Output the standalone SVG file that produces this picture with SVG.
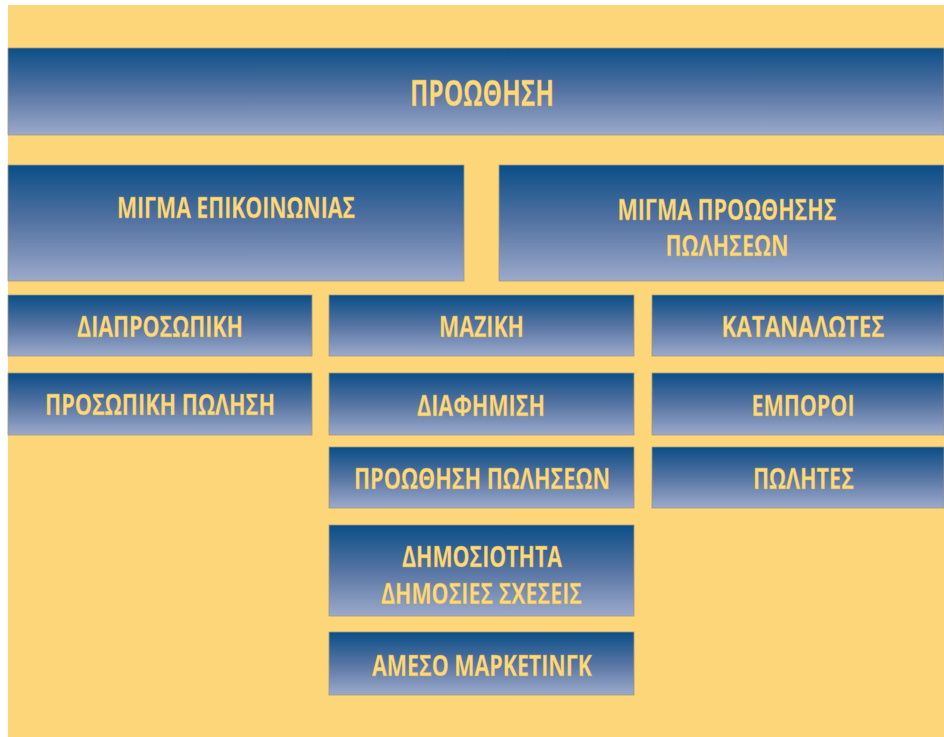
<svg xmlns="http://www.w3.org/2000/svg" width="944" height="737" viewBox="0 0 944 737">
  <defs>
    <linearGradient id="blue" x1="0" y1="0" x2="0" y2="1">
      <stop offset="0" stop-color="#0A4E87"/>
      <stop offset="0.5" stop-color="#5674A3"/>
      <stop offset="1" stop-color="#9CAACB"/>
    </linearGradient>
    <style>
      .box { fill: url(#blue); stroke: #9c9a86; stroke-width: 0.8; }
      .lbl { font-family: "Open Sans", "Noto Sans", "DejaVu Sans", sans-serif; font-weight: 700; font-size: 28px; fill: #FED87A; text-anchor: middle; stroke: #b9a650; stroke-width: 0.3; }
      .big { font-size: 35px; }
    </style>
  </defs>
  <rect x="0" y="0" width="944" height="737" fill="#ffffff"/>
  <rect x="8" y="5" width="936" height="732" fill="#FDD679"/>

  <g id="n-prowthisi">
    <rect class="box" x="8" y="48" width="936" height="87"/>
    <text class="lbl big" x="482" y="106" textLength="144" lengthAdjust="spacingAndGlyphs">ΠΡΟΩΘΗΣΗ</text>
  </g>
  <g id="n-migma-epikoinonias">
    <rect class="box" x="8" y="165" width="456" height="116"/>
    <text class="lbl" x="236" y="218" textLength="238" lengthAdjust="spacingAndGlyphs">ΜΙΓΜΑ ΕΠΙΚΟΙΝΩΝΙΑΣ</text>
  </g>
  <g id="n-migma-prowthisis">
    <rect class="box" x="499" y="165" width="445" height="116"/>
    <text class="lbl" x="727" y="220" textLength="219" lengthAdjust="spacingAndGlyphs">ΜΙΓΜΑ ΠΡΟΩΘΗΣΗΣ</text>
    <text class="lbl" x="727" y="256" textLength="123" lengthAdjust="spacingAndGlyphs">ΠΩΛΗΣΕΩΝ</text>
  </g>
  <g id="n-diaprosopiki">
    <rect class="box" x="8" y="295" width="304" height="61"/>
    <text class="lbl" x="160" y="337" textLength="166" lengthAdjust="spacingAndGlyphs">ΔΙΑΠΡΟΣΩΠΙΚΗ</text>
  </g>
  <g id="n-maziki">
    <rect class="box" x="329" y="295" width="305" height="61"/>
    <text class="lbl" x="481.5" y="337" textLength="85" lengthAdjust="spacingAndGlyphs">ΜΑΖΙΚΗ</text>
  </g>
  <g id="n-katanalotes">
    <rect class="box" x="652" y="295" width="292" height="61"/>
    <text class="lbl" x="803" y="337" textLength="163" lengthAdjust="spacingAndGlyphs">ΚΑΤΑΝΑΛΩΤΕΣ</text>
  </g>
  <g id="n-prosopiki-polisi">
    <rect class="box" x="8" y="373" width="304" height="62"/>
    <text class="lbl" x="160" y="415" textLength="230" lengthAdjust="spacingAndGlyphs">ΠΡΟΣΩΠΙΚΗ ΠΩΛΗΣΗ</text>
  </g>
  <g id="n-diafimisi">
    <rect class="box" x="329" y="373" width="305" height="62"/>
    <text class="lbl" x="481" y="416" textLength="128" lengthAdjust="spacingAndGlyphs">ΔΙΑΦΗΜΙΣΗ</text>
  </g>
  <g id="n-emporoi">
    <rect class="box" x="652" y="373" width="292" height="62"/>
    <text class="lbl" x="803" y="416" textLength="103" lengthAdjust="spacingAndGlyphs">ΕΜΠΟΡΟΙ</text>
  </g>
  <g id="n-prowthisi-poliseon">
    <rect class="box" x="329" y="447" width="305" height="61"/>
    <text class="lbl" x="482" y="489" textLength="256" lengthAdjust="spacingAndGlyphs">ΠΡΟΩΘΗΣΗ ΠΩΛΗΣΕΩΝ</text>
  </g>
  <g id="n-polites">
    <rect class="box" x="652" y="447" width="292" height="61"/>
    <text class="lbl" x="803.5" y="489" textLength="101" lengthAdjust="spacingAndGlyphs">ΠΩΛΗΤΕΣ</text>
  </g>
  <g id="n-dimosiotita">
    <rect class="box" x="329" y="525" width="305" height="91"/>
    <text class="lbl" x="482" y="567" textLength="160" lengthAdjust="spacingAndGlyphs">ΔΗΜΟΣΙΟΤΗΤΑ</text>
    <text class="lbl" x="481.5" y="604" textLength="201" lengthAdjust="spacingAndGlyphs">ΔΗΜΟΣΙΕΣ ΣΧΕΣΕΙΣ</text>
  </g>
  <g id="n-ameso-marketing">
    <rect class="box" x="329" y="632" width="305" height="63"/>
    <text class="lbl" x="482" y="676" textLength="220" lengthAdjust="spacingAndGlyphs">ΑΜΕΣΟ ΜΑΡΚΕΤΙΝΓΚ</text>
  </g>
</svg>
